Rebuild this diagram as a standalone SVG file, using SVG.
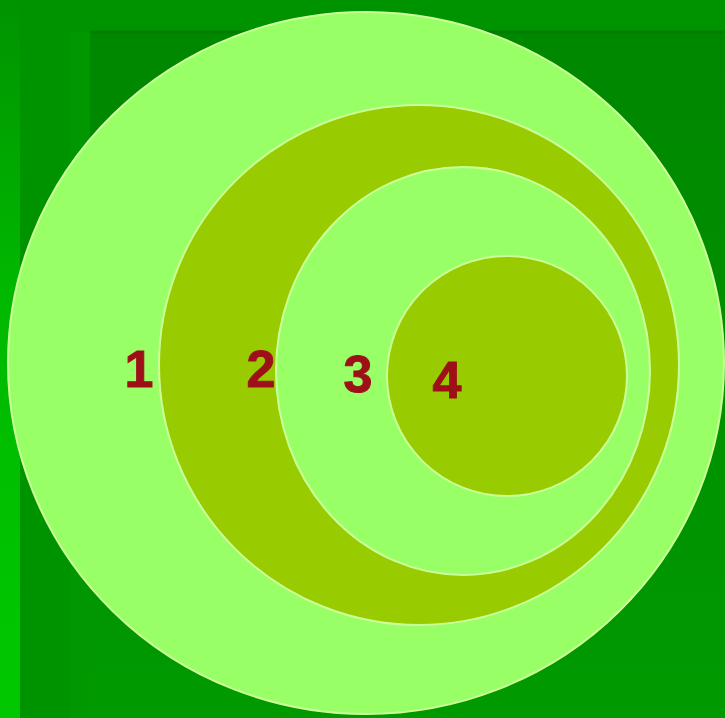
<svg xmlns="http://www.w3.org/2000/svg" width="725" height="718" viewBox="0 0 725 718">
<defs>
<linearGradient id="inner" x1="0" y1="0" x2="0" y2="1">
<stop offset="0" stop-color="#008700"/>
<stop offset="1" stop-color="#009a00"/>
</linearGradient>
<linearGradient id="strip" x1="0" y1="0" x2="0" y2="1">
<stop offset="0" stop-color="#009300"/>
<stop offset="0.4" stop-color="#00b800"/>
<stop offset="1" stop-color="#00c800"/>
</linearGradient>
</defs>
<style>
.ring{stroke:#ccff99;stroke-width:2}
.light{fill:#99ff66}
.dark{fill:#99cc00}
.num{font-family:"Liberation Sans",Arial,sans-serif;font-weight:bold;font-size:52px;fill:#9e1018;text-anchor:middle;stroke:#9e1018;stroke-width:1}
</style>
<g id="background">
<rect x="0" y="0" width="725" height="718" fill="#009300"/>
<rect x="90" y="32" width="635" height="686" fill="url(#inner)"/>
<line x1="90" y1="32" x2="725" y2="32" stroke="#007c00" stroke-width="3"/>
<rect x="70" y="32" width="20" height="686" fill="#009700"/>
<rect x="0" y="0" width="20" height="718" fill="url(#strip)"/>
</g>
<g id="circle1"><ellipse class="ring light" cx="366" cy="363" rx="358" ry="351"/><text class="num" x="139" y="387">1</text></g>
<g id="circle2"><circle class="ring dark" cx="419" cy="365" r="260"/><text class="num" x="261" y="387">2</text></g>
<g id="circle3"><ellipse class="ring light" cx="463" cy="371" rx="187" ry="204"/><text class="num" x="358" y="392">3</text></g>
<g id="circle4"><circle class="ring dark" cx="507" cy="376" r="120"/><text class="num" x="447" y="398">4</text></g>
<g id="connectors"/>
</svg>
